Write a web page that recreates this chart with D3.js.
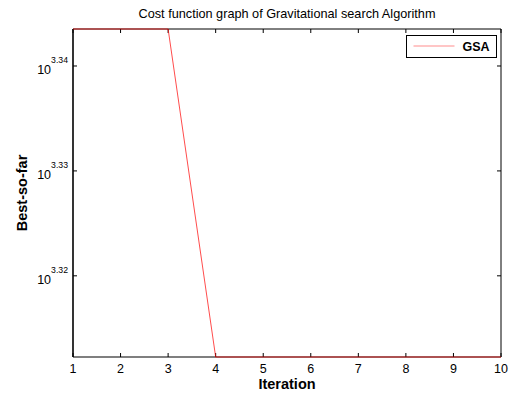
<!DOCTYPE html>
<html>
<head>
<meta charset="utf-8">
<script src="https://cdn.jsdelivr.net/npm/d3@7"></script>
<style>
  body { margin: 0; background: #fff; }
  svg { display: block; font-family: "Liberation Sans", Arial, sans-serif; }
</style>
</head>
<body>
<div id="chart"></div>
<script>
// data
const iterations = [1, 2, 3, 4, 5, 6, 7, 8, 9, 10];
const bestSoFar = [2205.6, 2205.6, 2205.6, 2052.4, 2052.4, 2052.4, 2052.4, 2052.4, 2052.4, 2052.4];
const xTicks = [1, 2, 3, 4, 5, 6, 7, 8, 9, 10];
const yTickExponents = ["3.32", "3.33", "3.34"];

const width = 510, height = 394;
const margin = {top: 29, right: 9, bottom: 37, left: 73};
const w = width - margin.left - margin.right;
const h = height - margin.top - margin.bottom;

const svg = d3.select("#chart").append("svg")
    .attr("width", width)
    .attr("height", height);

const g = svg.append("g")
    .attr("transform", "translate(" + margin.left + "," + margin.top + ")");

const x = d3.scaleLinear()
    .domain(d3.extent(iterations))
    .range([0, w]);

const y = d3.scaleLog()
    .domain(d3.extent(bestSoFar))
    .range([h, 0]);

const tickLen = 4;

// x ticks (bottom + top, pointing in)
xTicks.forEach(function(t) {
    g.append("line")
        .attr("x1", x(t)).attr("x2", x(t))
        .attr("y1", h).attr("y2", h - tickLen)
        .attr("stroke", "#000").attr("stroke-width", 1);
    g.append("line")
        .attr("x1", x(t)).attr("x2", x(t))
        .attr("y1", 0).attr("y2", tickLen)
        .attr("stroke", "#000").attr("stroke-width", 1);
    g.append("text")
        .attr("x", x(t))
        .attr("y", h + 16)
        .attr("text-anchor", "middle")
        .style("font-size", "12.5px")
        .text(t);
});

// y ticks (left + right), labelled as powers of ten
yTickExponents.forEach(function(e) {
    const yy = y(Math.pow(10, +e));
    g.append("line")
        .attr("x1", 0).attr("x2", tickLen)
        .attr("y1", yy).attr("y2", yy)
        .attr("stroke", "#000").attr("stroke-width", 1);
    g.append("line")
        .attr("x1", w).attr("x2", w - tickLen)
        .attr("y1", yy).attr("y2", yy)
        .attr("stroke", "#000").attr("stroke-width", 1);
    const lab = g.append("text")
        .attr("x", -5)
        .attr("y", yy + 8)
        .attr("text-anchor", "end")
        .style("font-size", "12.5px");
    lab.append("tspan").text("10");
    lab.append("tspan")
        .attr("dy", -11)
        .style("font-size", "8.7px")
        .text(e);
});

// axes box: left/bottom heavier, top/right thin
g.append("line").attr("x1", w).attr("x2", w).attr("y1", 0).attr("y2", h)
    .attr("stroke", "#000").attr("stroke-width", 1);
g.append("line").attr("x1", 0).attr("x2", w).attr("y1", 0).attr("y2", 0)
    .attr("stroke", "#000").attr("stroke-width", 1);
g.append("line").attr("x1", 0).attr("x2", 0).attr("y1", 0).attr("y2", h)
    .attr("stroke", "#000").attr("stroke-width", 1.6);
g.append("line").attr("x1", 0).attr("x2", w).attr("y1", h).attr("y2", h)
    .attr("stroke", "#000").attr("stroke-width", 1.2);

// the data line
const line = d3.line()
    .x(function(d, i) { return x(iterations[i]); })
    .y(function(d) { return y(d); });

g.append("path")
    .datum(bestSoFar)
    .attr("fill", "none")
    .attr("stroke", "#ff0000")
    .attr("stroke-opacity", 0.7)
    .attr("stroke-width", 1)
    .attr("d", line);

// legend
const legend = g.append("g")
    .attr("transform", "translate(" + (w - 94.5) + ",6.5)");
legend.append("rect")
    .attr("width", 90).attr("height", 22)
    .attr("fill", "#fff")
    .attr("stroke", "#000").attr("stroke-width", 1);
legend.append("line")
    .attr("x1", 7).attr("x2", 48)
    .attr("y1", 10.5).attr("y2", 10.5)
    .attr("stroke", "#ff0000").attr("stroke-opacity", 0.45)
    .attr("stroke-width", 1);
legend.append("text")
    .attr("x", 56).attr("y", 15.5)
    .style("font-size", "12.5px")
    .style("font-weight", "bold")
    .text("GSA");

// title and axis labels
svg.append("text")
    .attr("x", margin.left + w / 2)
    .attr("y", 17.5)
    .attr("text-anchor", "middle")
    .style("font-size", "12.7px")
    .text("Cost function graph of Gravitational search Algorithm");

svg.append("text")
    .attr("x", margin.left + w / 2)
    .attr("y", 389)
    .attr("text-anchor", "middle")
    .style("font-size", "14.5px")
    .style("font-weight", "bold")
    .text("Iteration");

svg.append("text")
    .attr("transform", "translate(27," + (margin.top + h / 2) + ") rotate(-90)")
    .attr("text-anchor", "middle")
    .style("font-size", "14.5px")
    .style("font-weight", "bold")
    .text("Best-so-far");
</script>
</body>
</html>
